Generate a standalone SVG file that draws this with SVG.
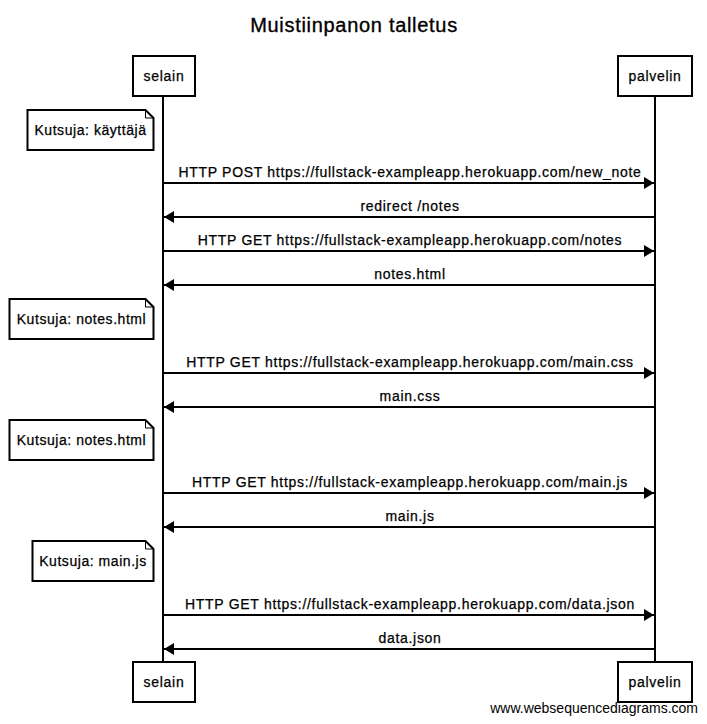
<svg xmlns="http://www.w3.org/2000/svg" width="707" height="724" viewBox="0 0 707 724">
<defs>
<marker id="ah" viewBox="0 0 10 12" refX="10" refY="6" markerWidth="10" markerHeight="12" markerUnits="userSpaceOnUse" orient="auto">
<path d="M0,0 L10,6 L0,12 Z" fill="#000"/>
</marker>
</defs>
<style>
text{font-family:"Liberation Sans",Arial,sans-serif;fill:#000}
.t{font-size:14px;letter-spacing:0.7px;stroke:#000;stroke-width:0.25px}
.c{text-anchor:middle}
.title{font-size:20px;letter-spacing:0.7px;text-anchor:middle;stroke:#000;stroke-width:0.35px}
.box{fill:#fff;stroke:#000;stroke-width:2}
.life{stroke:#000;stroke-width:2;fill:none}
.msg{stroke:#000;stroke-width:2;fill:none;marker-end:url(#ah)}
.note{fill:#fff;stroke:#000;stroke-width:2;stroke-linejoin:miter}
.fold{fill:none;stroke:#000;stroke-width:1}
.foot{font-size:14px;text-anchor:end}
</style>
<rect width="707" height="724" fill="#fff"/>
<text class="title" x="354" y="32">Muistiinpanon talletus</text>

<g id="lifelines">
<line class="life" x1="163" y1="96" x2="163" y2="662"/>
<line class="life" x1="655" y1="96" x2="655" y2="662"/>
</g>

<g id="selain">
<rect class="box" x="133" y="56" width="62" height="40"/>
<text class="t c" x="164" y="81">selain</text>
<rect class="box" x="133" y="662" width="62" height="40"/>
<text class="t c" x="164" y="687">selain</text>
</g>
<g id="palvelin">
<rect class="box" x="618" y="56" width="74" height="40"/>
<text class="t c" x="655" y="81">palvelin</text>
<rect class="box" x="618" y="662" width="74" height="40"/>
<text class="t c" x="655" y="687">palvelin</text>
</g>

<g id="note1">
<path class="note" d="M27.5,110 H145.5 L153.5,118 V150 H27.5 Z"/>
<path class="fold" d="M145.5,110 V118 H153.5"/>
<text class="t c" x="90.5" y="135" style="letter-spacing:0.55px">Kutsuja: käyttäjä</text>
</g>
<g id="note2">
<path class="note" d="M9.5,299 H145.5 L153.5,307 V339 H9.5 Z"/>
<path class="fold" d="M145.5,299 V307 H153.5"/>
<text class="t c" x="81.5" y="324" style="letter-spacing:0.55px">Kutsuja: notes.html</text>
</g>
<g id="note3">
<path class="note" d="M9.5,420 H145.5 L153.5,428 V460 H9.5 Z"/>
<path class="fold" d="M145.5,420 V428 H153.5"/>
<text class="t c" x="81.5" y="445" style="letter-spacing:0.55px">Kutsuja: notes.html</text>
</g>
<g id="note4">
<path class="note" d="M32.5,541 H145.5 L153.5,549 V581 H32.5 Z"/>
<path class="fold" d="M145.5,541 V549 H153.5"/>
<text class="t c" x="93" y="566" style="letter-spacing:0.55px">Kutsuja: main.js</text>
</g>

<g id="connectors">
<line class="msg" x1="164" y1="183" x2="654" y2="183"/>
<line class="msg" x1="654" y1="217" x2="164" y2="217"/>
<line class="msg" x1="164" y1="251" x2="654" y2="251"/>
<line class="msg" x1="654" y1="285" x2="164" y2="285"/>
<line class="msg" x1="164" y1="373" x2="654" y2="373"/>
<line class="msg" x1="654" y1="407" x2="164" y2="407"/>
<line class="msg" x1="164" y1="493" x2="654" y2="493"/>
<line class="msg" x1="654" y1="527" x2="164" y2="527"/>
<line class="msg" x1="164" y1="615" x2="654" y2="615"/>
<line class="msg" x1="654" y1="649" x2="164" y2="649"/>
</g>
<g id="labels">
<text class="t c" x="410" y="177">HTTP POST https://fullstack-exampleapp.herokuapp.com/new_note</text>
<text class="t c" x="410" y="211">redirect /notes</text>
<text class="t c" x="410" y="245">HTTP GET https://fullstack-exampleapp.herokuapp.com/notes</text>
<text class="t c" x="410" y="279">notes.html</text>
<text class="t c" x="410" y="367">HTTP GET https://fullstack-exampleapp.herokuapp.com/main.css</text>
<text class="t c" x="410" y="401">main.css</text>
<text class="t c" x="410" y="487">HTTP GET https://fullstack-exampleapp.herokuapp.com/main.js</text>
<text class="t c" x="410" y="521">main.js</text>
<text class="t c" x="410" y="609">HTTP GET https://fullstack-exampleapp.herokuapp.com/data.json</text>
<text class="t c" x="410" y="643">data.json</text>
</g>
<text class="foot" x="698" y="713">www.websequencediagrams.com</text>
</svg>
